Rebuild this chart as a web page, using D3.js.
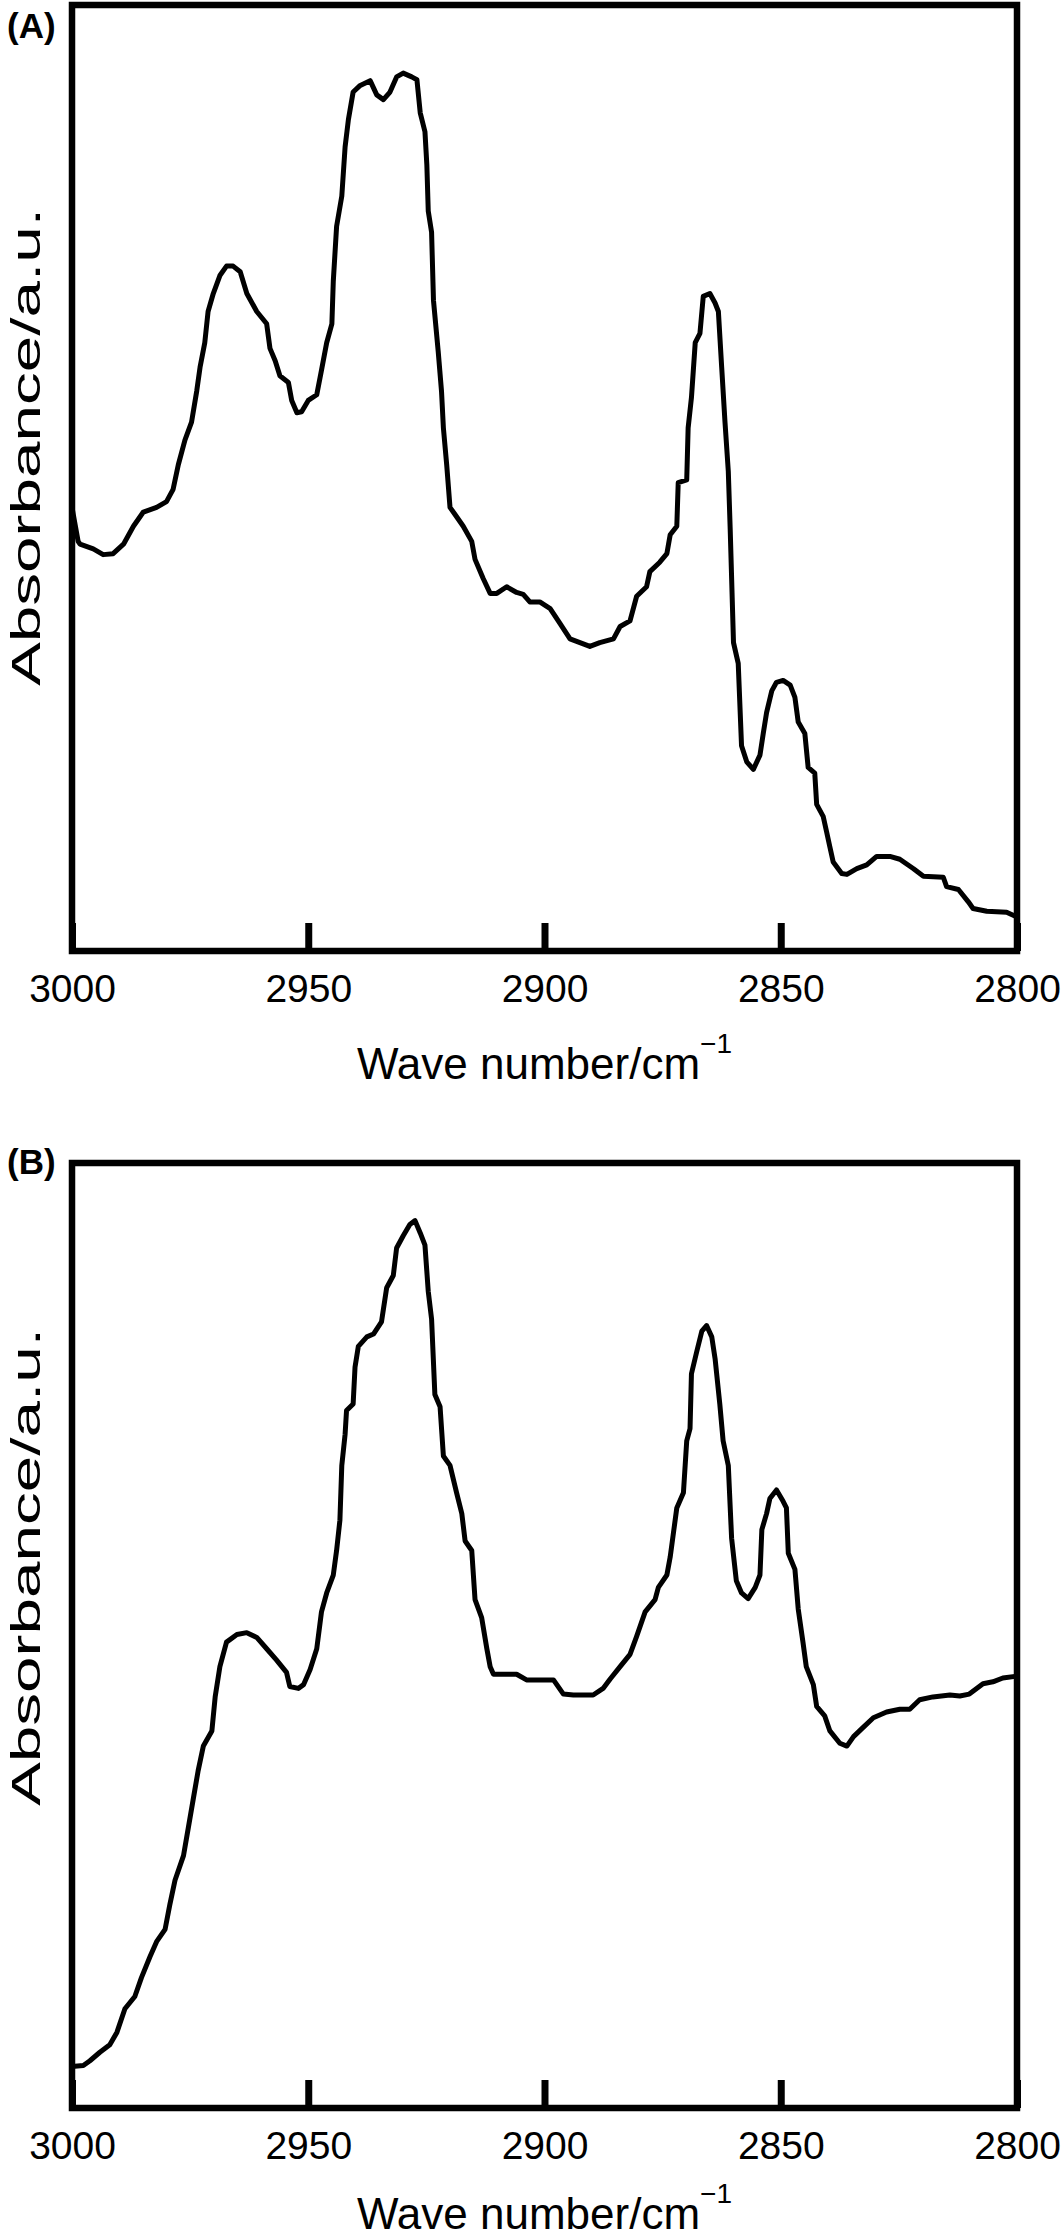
<!DOCTYPE html>
<html>
<head>
<meta charset="utf-8">
<script src="https://cdn.jsdelivr.net/npm/d3@7"></script>
<style>
  body { margin: 0; background: #fff; }
  svg { display: block; font-family: "Liberation Sans", Arial, sans-serif; }
</style>
</head>
<body>
<div id="chart"></div>
<script>
// spectrum (A)
const waveA = [3000, 2998.7, 2998.3, 2995.5, 2993.4, 2991.3, 2989.1, 2987.0, 2984.9, 2982.1, 2980.0, 2978.6,
  2977.5, 2976.1, 2974.7, 2973.6, 2972.9, 2971.9, 2971.2, 2970.1, 2968.7, 2967.3, 2965.9, 2964.4, 2963.0,
  2960.9, 2958.8, 2958.1, 2957.0, 2956.0, 2954.2, 2953.5, 2952.4, 2951.4, 2950.0, 2948.2, 2947.2, 2946.1,
  2945.0, 2944.7, 2944.0, 2942.9, 2942.2, 2941.5, 2940.5, 2939.0, 2936.9, 2935.5, 2934.1, 2932.7, 2931.3,
  2929.9, 2928.1, 2927.0, 2926.3, 2925.3, 2924.9, 2924.6, 2923.9, 2923.5, 2922.5, 2921.8, 2921.4, 2920.7,
  2920.0, 2918.6, 2917.2, 2915.4, 2914.7, 2913.0, 2911.5, 2910.1, 2908.0, 2905.9, 2904.5, 2903.1, 2901.0,
  2898.8, 2896.7, 2894.6, 2892.5, 2890.4, 2888.3, 2885.4, 2884.0, 2881.9, 2880.5, 2878.4, 2877.7, 2875.6,
  2874.1, 2873.4, 2872.0, 2871.7, 2869.9, 2869.6, 2868.9, 2868.1, 2867.1, 2866.4, 2865.0, 2863.9, 2863.2,
  2862.5, 2861.8, 2861.1, 2860.7, 2860.0, 2859.0, 2858.3, 2857.2, 2855.8, 2854.4, 2853.7, 2853.0, 2851.9,
  2850.9, 2849.5, 2848.0, 2847.0, 2846.3, 2844.9, 2844.2, 2842.8, 2842.4, 2841.0, 2840.3, 2839.6, 2838.9,
  2837.1, 2836.0, 2833.9, 2831.8, 2829.7, 2826.9, 2824.8, 2821.9, 2819.8, 2815.6, 2814.9, 2812.4, 2810.3,
  2809.3, 2806.4, 2802.2, 2800];
const absA = [0.469, 0.433, 0.430, 0.425, 0.419, 0.420, 0.430, 0.449, 0.464, 0.469, 0.475, 0.488,
  0.514, 0.540, 0.559, 0.592, 0.617, 0.643, 0.676, 0.695, 0.714, 0.724, 0.724, 0.718, 0.695,
  0.676, 0.663, 0.637, 0.624, 0.608, 0.601, 0.582, 0.569, 0.570, 0.582, 0.588, 0.614, 0.643,
  0.663, 0.708, 0.766, 0.798, 0.850, 0.879, 0.908, 0.915, 0.920, 0.905, 0.900, 0.908, 0.924,
  0.928, 0.924, 0.921, 0.886, 0.866, 0.831, 0.782, 0.760, 0.688, 0.634, 0.592, 0.553, 0.514,
  0.469, 0.459, 0.449, 0.433, 0.414, 0.394, 0.378, 0.378, 0.385, 0.379, 0.377, 0.369, 0.369,
  0.362, 0.346, 0.330, 0.326, 0.322, 0.326, 0.330, 0.343, 0.349, 0.375, 0.385, 0.401, 0.411,
  0.420, 0.440, 0.449, 0.495, 0.498, 0.553, 0.585, 0.643, 0.653, 0.692, 0.695, 0.685, 0.676,
  0.617, 0.559, 0.507, 0.446, 0.326, 0.304, 0.217, 0.200, 0.192, 0.207, 0.230, 0.252, 0.275,
  0.284, 0.286, 0.281, 0.268, 0.242, 0.230, 0.194, 0.188, 0.155, 0.142, 0.126, 0.110, 0.094,
  0.082, 0.081, 0.087, 0.091, 0.100, 0.100, 0.097, 0.087, 0.079, 0.078, 0.068, 0.065, 0.052,
  0.045, 0.042, 0.041, 0.036];

// spectrum (B)
const waveB = [3000, 2997.6, 2996.2, 2994.1, 2992.0, 2990.5, 2988.8, 2986.7, 2985.3, 2983.5, 2982.1, 2980.3,
  2979.3, 2978.2, 2976.4, 2975.4, 2974.3, 2973.3, 2972.2, 2970.4, 2969.7, 2968.7, 2967.3, 2965.1, 2963.0,
  2960.9, 2958.8, 2956.7, 2954.6, 2953.9, 2952.1, 2951.0, 2949.6, 2948.2, 2947.2, 2946.1, 2944.7, 2944.0,
  2943.3, 2942.9, 2942.2, 2941.9, 2940.5, 2940.1, 2939.4, 2937.6, 2936.2, 2934.5, 2933.4, 2932.0, 2931.3,
  2929.9, 2928.5, 2927.4, 2926.3, 2925.3, 2924.6, 2923.9, 2923.2, 2922.1, 2921.4, 2920.0, 2918.6, 2917.5,
  2916.8, 2915.4, 2914.7, 2913.3, 2912.2, 2911.5, 2910.8, 2908.7, 2905.9, 2903.8, 2901.0, 2898.1, 2896.0,
  2893.9, 2889.7, 2887.6, 2886.1, 2884.0, 2881.9, 2880.5, 2878.7, 2876.6, 2875.9, 2874.1, 2873.4, 2872.7,
  2872.0, 2870.6, 2869.9, 2869.2, 2868.9, 2867.8, 2866.7, 2865.7, 2864.6, 2863.9, 2862.9, 2862.2, 2861.1,
  2860.4, 2859.4, 2858.3, 2856.9, 2855.4, 2854.4, 2854.0, 2853.0, 2852.3, 2850.9, 2849.5, 2848.8, 2848.4,
  2847.0, 2846.3, 2845.3, 2844.6, 2843.1, 2842.4, 2840.7, 2839.6, 2837.5, 2836.0, 2834.6, 2832.5, 2830.4,
  2827.6, 2824.8, 2822.7, 2820.6, 2817.8, 2814.2, 2812.1, 2810.1, 2807.2, 2805.1, 2803.0, 2800];
const absB = [0.044, 0.045, 0.050, 0.059, 0.067, 0.080, 0.105, 0.118, 0.138, 0.160, 0.176, 0.189,
  0.215, 0.241, 0.267, 0.296, 0.328, 0.357, 0.383, 0.399, 0.435, 0.467, 0.493, 0.501, 0.503,
  0.498, 0.486, 0.474, 0.461, 0.446, 0.444, 0.448, 0.464, 0.486, 0.525, 0.545, 0.564, 0.590,
  0.622, 0.680, 0.713, 0.738, 0.745, 0.784, 0.806, 0.816, 0.819, 0.832, 0.868, 0.881, 0.910,
  0.923, 0.935, 0.939, 0.926, 0.913, 0.864, 0.835, 0.755, 0.742, 0.690, 0.680, 0.651, 0.629,
  0.600, 0.590, 0.538, 0.519, 0.486, 0.467, 0.459, 0.459, 0.459, 0.453, 0.453, 0.453, 0.438,
  0.437, 0.437, 0.444, 0.454, 0.467, 0.480, 0.499, 0.525, 0.538, 0.551, 0.564, 0.583, 0.609,
  0.635, 0.651, 0.706, 0.719, 0.777, 0.800, 0.822, 0.828, 0.816, 0.793, 0.745, 0.706, 0.680,
  0.603, 0.558, 0.545, 0.539, 0.551, 0.564, 0.612, 0.629, 0.645, 0.654, 0.642, 0.635, 0.587,
  0.570, 0.528, 0.493, 0.467, 0.448, 0.425, 0.415, 0.399, 0.386, 0.383, 0.393, 0.403, 0.413,
  0.419, 0.422, 0.422, 0.432, 0.435, 0.437, 0.436, 0.438, 0.449, 0.451, 0.455, 0.457];

const tickLabels = [3000, 2950, 2900, 2850, 2800];
const panelNames = ['(A)', '(B)'];
const yTitle = 'Absorbance/a.u.';
const xTitle = 'Wave number/cm';

const W = 1064, H = 2238;
const left = 72, right = 1017;
const panels = [
  { name: panelNames[0], wave: waveA, abs: absA, top: 5, bottom: 951, labelY: 38, yMid: 447, titleY: 1079 },
  { name: panelNames[1], wave: waveB, abs: absB, top: 1163, bottom: 2108, labelY: 1174, yMid: 1567, titleY: 2229 }
];

const svg = d3.select('#chart').append('svg')
  .attr('width', W)
  .attr('height', H);

const x = d3.scaleLinear().domain([3000, 2800]).range([left, right]);

panels.forEach(p => {
  const y = d3.scaleLinear().domain([0, 1]).range([p.bottom, p.top]);

  const line = d3.line()
    .x((d, i) => x(p.wave[i]))
    .y(d => y(d));

  svg.append('path')
    .datum(p.abs)
    .attr('d', line)
    .attr('fill', 'none')
    .attr('stroke', '#000')
    .attr('stroke-width', 5)
    .attr('stroke-linejoin', 'round');

  // bottom axis, ticks point inward
  const ax = d3.axisBottom(x)
    .tickValues(tickLabels)
    .tickFormat(d3.format('d'))
    .tickSizeInner(-28)
    .tickSizeOuter(0)
    .tickPadding(23);

  const g = svg.append('g')
    .attr('transform', 'translate(0,' + p.bottom + ')')
    .call(ax);
  g.select('.domain').remove();
  g.selectAll('.tick line').attr('stroke', '#000').attr('stroke-width', 7);
  g.selectAll('.tick text')
    .attr('font-size', 39)
    .attr('font-family', '"Liberation Sans", Arial, sans-serif')
    .attr('fill', '#000');

  // frame
  svg.append('rect')
    .attr('x', left)
    .attr('y', p.top)
    .attr('width', right - left)
    .attr('height', p.bottom - p.top)
    .attr('fill', 'none')
    .attr('stroke', '#000')
    .attr('stroke-width', 6.5);

  svg.append('text')
    .attr('x', 7)
    .attr('y', p.labelY)
    .attr('font-size', 35)
    .attr('font-weight', 'bold')
    .text(p.name);

  const xt = svg.append('text')
    .attr('x', (left + right) / 2)
    .attr('y', p.titleY)
    .attr('text-anchor', 'middle')
    .attr('font-size', 44);
  xt.append('tspan').text(xTitle);
  xt.append('tspan').attr('font-size', 28).attr('dy', -26).text('\u22121');

  svg.append('text')
    .attr('transform', 'translate(40,' + p.yMid + ') rotate(-90)')
    .attr('text-anchor', 'middle')
    .attr('font-size', 40)
    .attr('textLength', 478)
    .attr('lengthAdjust', 'spacingAndGlyphs')
    .text(yTitle);
});
</script>
</body>
</html>
